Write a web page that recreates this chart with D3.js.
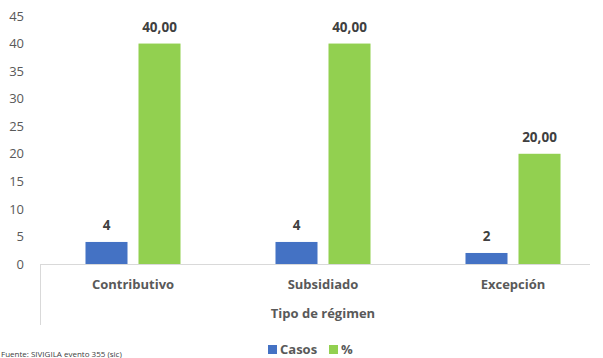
<!DOCTYPE html>
<html><head><meta charset="utf-8">
<script src="https://cdn.jsdelivr.net/npm/d3@7"></script>
<style>body{margin:0;background:#fff}svg{display:block}</style>
</head><body><svg id="c" width="603" height="358"></svg>
<script>
const categories = ["Contributivo", "Subsidiado", "Excepción"];
const casos = [4, 4, 2];
const pct = [40, 40, 20];
const yTicks = [0, 5, 10, 15, 20, 25, 30, 35, 40, 45];
const seriesNames = ["Casos", "%"];
const colors = ["#4472C4", "#92D050"];

(function () {
const svg = d3.select("#c");
const font = "'Open Sans', sans-serif";
const txt = "#595959";
const pLeft = 38, pRight = 608, pTop = 16, pBottom = 264;

const y = d3.scaleLinear().domain([0, 45]).range([pBottom, pTop]);
const x0 = d3.scaleBand().domain(categories).range([pLeft, pRight]);
const x1 = d3.scaleBand().domain(seriesNames).range([0, x0.bandwidth()]).paddingInner(0.2075).paddingOuter(0.896);

const yAxis = d3.axisLeft(y).tickValues(yTicks).tickSize(0).tickPadding(0);
const ga = svg.append("g").attr("transform", "translate(24,0)").call(yAxis);
ga.select(".domain").remove();
ga.selectAll("text").attr("font-family", font).attr("font-size", 13).attr("fill", txt);

svg.append("line").attr("x1", pLeft + 2).attr("x2", 590).attr("y1", pBottom + 0.5).attr("y2", pBottom + 0.5)
  .attr("stroke", "#d9d9d9").attr("stroke-width", 1);
svg.append("line").attr("x1", pLeft + 2.5).attr("x2", pLeft + 2.5).attr("y1", pBottom).attr("y2", 325)
  .attr("stroke", "#d9d9d9").attr("stroke-width", 1);

const data = categories.map((c, i) => ({ cat: c, vals: [casos[i], pct[i]] }));
const g = svg.selectAll(".cat").data(data).enter().append("g")
  .attr("transform", d => `translate(${x0(d.cat)},0)`);

g.selectAll("rect").data(d => d.vals.map((v, j) => ({ s: seriesNames[j], v, j }))).enter().append("rect")
  .attr("x", d => x1(d.s)).attr("width", x1.bandwidth())
  .attr("y", d => y(d.v)).attr("height", d => y(0) - y(d.v))
  .attr("fill", d => colors[d.j]);

g.selectAll("text.lab").data(d => d.vals.map((v, j) => ({ s: seriesNames[j], v, j }))).enter().append("text")
  .attr("class", "lab")
  .attr("x", d => x1(d.s) + x1.bandwidth() / 2).attr("y", d => y(d.v) - 12)
  .attr("text-anchor", "middle").attr("font-family", font).attr("font-size", 13.5).attr("font-weight", "bold")
  .attr("fill", "#404040")
  .text(d => d.j === 0 ? String(d.v) : d.v.toFixed(2).replace(".", ","));

svg.selectAll("text.catl").data(categories).enter().append("text").attr("class", "catl")
  .attr("x", d => x0(d) + x0.bandwidth() / 2).attr("y", 289)
  .attr("text-anchor", "middle").attr("font-family", font).attr("font-size", 13).attr("font-weight", "bold")
  .attr("fill", txt).text(d => d);

svg.append("text").attr("x", 323).attr("y", 318).attr("text-anchor", "middle")
  .attr("font-family", font).attr("font-size", 13).attr("font-weight", "bold").attr("fill", txt)
  .text("Tipo de régimen");

const legX = [268, 329];
const lg = svg.selectAll(".leg").data(seriesNames).enter().append("g")
  .attr("transform", (d, i) => `translate(${legX[i]},0)`);
lg.append("rect").attr("x", 0).attr("y", 345).attr("width", 9).attr("height", 9).attr("fill", (d, i) => colors[i]);
lg.append("text").attr("x", 12).attr("y", 354).attr("font-family", font).attr("font-size", 13).attr("font-weight", "bold")
  .attr("fill", txt).text(d => d);

svg.append("text").attr("x", 1).attr("y", 357).attr("font-family", font).attr("font-size", 8).attr("fill", "#404040")
  .text("Fuente: SIVIGILA evento 355 (sic)");
})();
</script></body></html>
